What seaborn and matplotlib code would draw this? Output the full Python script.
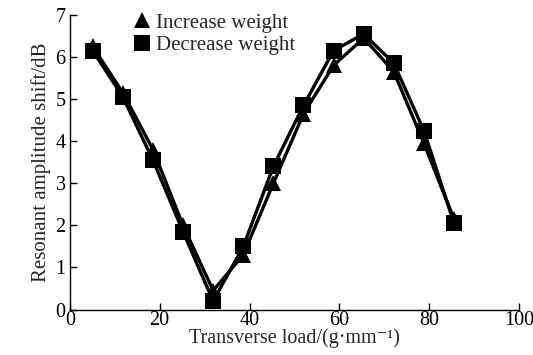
import pandas as pd
import numpy as np
import matplotlib.pyplot as plt
import seaborn as sns

# datos
load = [5.1, 11.8, 18.5, 25.2, 31.9, 38.6, 45.3, 52.0, 58.7, 65.4, 72.1, 78.8, 85.5]
increase = [6.25, 5.15, 3.8, 2.0, 0.45, 1.3, 3.0, 4.65, 5.8, 6.45, 5.65, 3.95, 2.15]
decrease = [6.15, 5.05, 3.55, 1.85, 0.2, 1.5, 3.4, 4.85, 6.15, 6.55, 5.85, 4.25, 2.05]

df = pd.DataFrame({
    'load': load * 2,
    'shift': increase + decrease,
    'serie': ['Increase weight'] * len(load) + ['Decrease weight'] * len(load),
})

sns.set_style('ticks')
plt.rcParams['font.family'] = ['Liberation Serif', 'DejaVu Serif']

fig = plt.figure(figsize=(5.33, 3.55), dpi=100)
ax = fig.add_axes([0.131, 0.128, 0.843, 0.830])

sns.lineplot(data=df, x='load', y='shift', hue='serie', style='serie',
             markers={'Increase weight': '^', 'Decrease weight': 's'},
             dashes=False, palette=['black', 'black'], linewidth=2.4,
             markersize=11, markeredgewidth=0, ax=ax)

ax.set_xlim(0, 100)
ax.set_ylim(0, 7)
ax.set_xticks(range(0, 101, 20))
ax.set_yticks(range(0, 8))
ax.tick_params(direction='in', length=5, width=1, labelsize=14.5, colors='black')
ax.tick_params(axis='x', pad=1)
ax.tick_params(axis='y', pad=3)
for s in ['top', 'right']:
    ax.spines[s].set_visible(False)
for s in ['left', 'bottom']:
    ax.spines[s].set_color('black')
    ax.spines[s].set_linewidth(1)

ax.set_xlabel('Transverse load/(g·mm⁻¹)', fontsize=14.5, labelpad=-1)
ax.set_ylabel('Resonant amplitude shift/dB', fontsize=15, labelpad=3)

handles, labels = ax.get_legend_handles_labels()
leg = ax.legend(handles, labels, loc='upper left', bbox_to_anchor=(0.1, 1.07),
                frameon=False, fontsize=15, handlelength=0.8, handletextpad=0.3,
                labelspacing=0.15)
for h in leg.legend_handles:
    h.set_linestyle('None')
    h.set_markersize(12)

fig.savefig('out.png', dpi=100)
